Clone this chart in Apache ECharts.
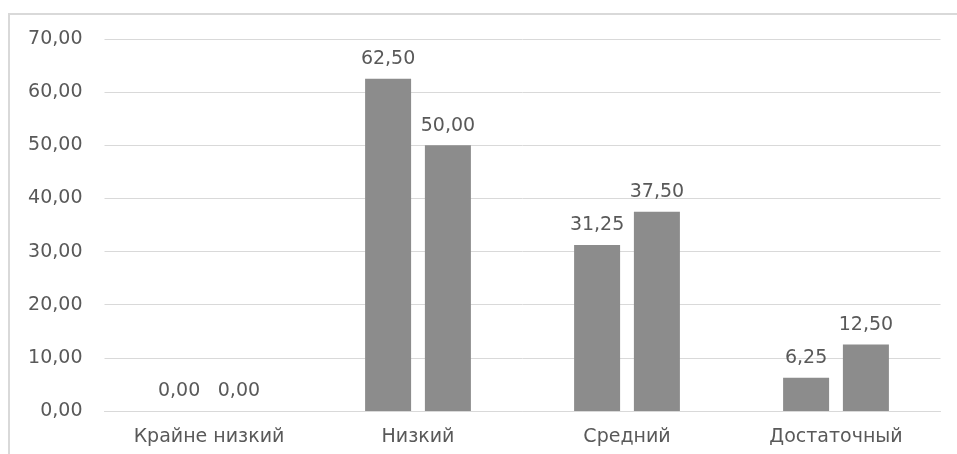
<!DOCTYPE html>
<html><head><meta charset="utf-8">
<script src="https://cdn.jsdelivr.net/npm/echarts@6/dist/echarts.min.js"></script>
<style>html,body{margin:0;padding:0;background:#fff}#c{width:957px;height:454px}</style>
</head><body><div id="c"></div>
<script>
const categories = ['Крайне низкий', 'Низкий', 'Средний', 'Достаточный'];
const series1 = [0, 62.5, 31.25, 6.25];
const series2 = [0, 50, 37.5, 12.5];
const yTicks = {min: 0, max: 70, interval: 10};

const fmt = v => Number(v).toFixed(2).replace('.', ',');
const font = '"DejaVu Sans", sans-serif';
const fs = 19;
const chart = echarts.init(document.getElementById('c'));
const mk = (name, data) => ({
  name, type: 'bar', data,
  barWidth: 46, barGap: '30%',
  itemStyle: {color: '#8c8c8c'},
  label: {show: true, position: 'top', distance: 10, formatter: p => fmt(p.value),
    color: '#595959', fontSize: fs, fontFamily: font}
});
chart.setOption({
  animation: false,
  graphic: [{type: 'rect', shape: {x: 9, y: 14, width: 1000, height: 500},
    style: {fill: 'none', stroke: '#d9d9d9', lineWidth: 2}}],
  grid: {left: 104.5, right: 16.5, top: 39, bottom: 43},
  xAxis: {type: 'category', data: categories,
    axisLine: {show: true, lineStyle: {color: '#d9d9d9'}}, axisTick: {show: false},
    axisLabel: {color: '#595959', fontSize: fs, fontFamily: font, margin: 17}},
  yAxis: {type: 'value', min: yTicks.min, max: yTicks.max, interval: yTicks.interval,
    axisLine: {show: false}, axisTick: {show: false},
    splitLine: {lineStyle: {color: '#d9d9d9'}},
    axisLabel: {color: '#595959', fontSize: fs, fontFamily: font, margin: 22, formatter: fmt}},
  series: [mk('s1', series1), mk('s2', series2)]
});
</script></body></html>
